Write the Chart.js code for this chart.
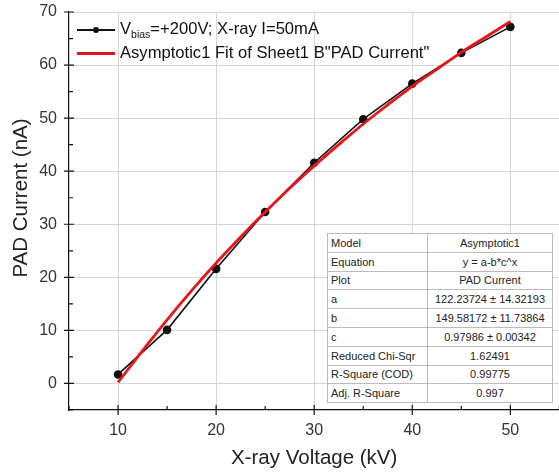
<!DOCTYPE html>
<html>
<head>
<meta charset="utf-8">
<script src="https://cdn.jsdelivr.net/npm/chart.js@4"></script>
<style>
  body { margin: 0; background: #fff; font-family: "Liberation Sans", Arial, sans-serif; overflow: hidden; }
  #wrap { position: relative; width: 559px; height: 475px; overflow: hidden; }
  #legend { position: absolute; left: 77px; top: 17px; font-size: 16.6px; color: #111; }
  #legend div { height: 24px; line-height: 24px; white-space: nowrap; }
  #legend span.sw { display: inline-block; width: 38px; height: 2px; vertical-align: middle; margin-right: 5px; position: relative; }
  #legend span.sw i { position: absolute; left: 16px; top: -2px; width: 6px; height: 6px; border-radius: 3px; background: #111; }
  #legend sub { font-size: 10.5px; }
  #stats { position: absolute; left: 327px; top: 233px; border-collapse: collapse; font-size: 11px; color: #222; background: #fff; border: 1px solid #999; }
  #stats td { border: 1px solid #bbb; height: 17.8px; padding: 0 3px; }
  #stats td:first-child { width: 93px; }
  #stats td + td { text-align: center; width: 118px; }
</style>
</head>
<body>
<div id="wrap">
  <canvas id="chart" width="565" height="475"></canvas>
  <div id="legend">
    <div><span class="sw" style="background:#111"><i></i></span>V<sub>bias</sub>=+200V; X-ray I=50mA</div>
    <div><span class="sw" style="background:#e8141c;height:3px"></span>Asymptotic1 Fit of Sheet1 B"PAD Current"</div>
  </div>
  <table id="stats"></table>
</div>
<script>
// measured points
var voltage = [10, 15, 20, 25, 30, 35, 40, 45, 50];
var current = [1.7, 10.1, 21.6, 32.3, 41.6, 49.8, 56.5, 62.3, 67.2];

// fit curve
var fitX = [10, 12.5, 15, 17.5, 20, 22.5, 25, 27.5, 30, 32.5, 35, 37.5, 40, 42.5, 45, 47.5, 50];
var fitY = [0.2, 6.2, 12.0, 17.5, 22.7, 27.6, 32.3, 36.8, 41.0, 45.0, 48.9, 52.5, 56.0, 59.2, 62.4, 65.3, 68.2];

var statRows = [
  ["Model", "Asymptotic1"],
  ["Equation", "y = a-b*c^x"],
  ["Plot", "PAD Current"],
  ["a", "122.23724 \u00b1 14.32193"],
  ["b", "149.58172 \u00b1 11.73864"],
  ["c", "0.97986 \u00b1 0.00342"],
  ["Reduced Chi-Sqr", "1.62491"],
  ["R-Square (COD)", "0.99775"],
  ["Adj. R-Square", "0.997"]
];

var table = document.getElementById("stats");
statRows.forEach(function (r) {
  var tr = document.createElement("tr");
  tr.innerHTML = "<td>" + r[0] + "</td><td>" + r[1] + "</td>";
  table.appendChild(tr);
});

function toPts(xs, ys) {
  return xs.map(function (x, i) { return { x: x, y: ys[i] }; });
}

// major ticks cross the axis, minor ticks point inward; y title drawn by hand
var axisTicks = {
  id: "axisTicks",
  afterDraw: function (chart) {
    var ctx = chart.ctx, a = chart.chartArea;
    var xs = chart.scales.x, ys = chart.scales.y;
    ctx.save();
    ctx.strokeStyle = "#111";
    ctx.lineWidth = 1.2;
    ctx.beginPath();
    xs.ticks.forEach(function (t) {
      var px = xs.getPixelForValue(t.value);
      if (t.value % 10 === 0) { ctx.moveTo(px, a.bottom - 5); ctx.lineTo(px, a.bottom + 5); }
      else { ctx.moveTo(px, a.bottom - 4); ctx.lineTo(px, a.bottom); }
    });
    ys.ticks.forEach(function (t) {
      var py = ys.getPixelForValue(t.value);
      if (t.value % 10 === 0) { ctx.moveTo(a.left - 5, py); ctx.lineTo(a.left + 5, py); }
      else { ctx.moveTo(a.left, py); ctx.lineTo(a.left + 4, py); }
    });
    ctx.stroke();

    ctx.translate(21, 198);
    ctx.rotate(-Math.PI / 2);
    ctx.fillStyle = "#222";
    ctx.font = "20.5px 'Liberation Sans'";
    ctx.textAlign = "center";
    ctx.textBaseline = "middle";
    ctx.fillText("PAD Current (nA)", 0, 0);
    ctx.restore();
  }
};

function gridColor(c) {
  var v = c.tick ? c.tick.value : null;
  if (v === null || v % 10 !== 0) return "rgba(0,0,0,0)";
  return "#d6d6d6";
}

new Chart(document.getElementById("chart"), {
  type: "scatter",
  data: {
    datasets: [
      {
        label: "fit",
        data: toPts(fitX, fitY),
        showLine: true,
        borderColor: "#e8141c",
        borderWidth: 2.8,
        pointRadius: 0,
        cubicInterpolationMode: "monotone",
        order: 0
      },
      {
        label: "data",
        data: toPts(voltage, current),
        showLine: true,
        borderColor: "#111",
        borderWidth: 1.6,
        pointRadius: 3.5,
        pointBackgroundColor: "#111",
        pointBorderColor: "#111",
        order: 1
      }
    ]
  },
  options: {
    responsive: false,
    animation: false,
    layout: { padding: { top: 12, right: 0, left: 0, bottom: 0 } },
    plugins: { legend: { display: false }, tooltip: { enabled: false } },
    scales: {
      x: {
        type: "linear",
        min: 5, max: 55,
        afterFit: function (s) { s.height = 65; s.paddingLeft = 0; s.paddingRight = 0; },
        border: { color: "#111", width: 1.2 },
        grid: { color: gridColor, drawTicks: false },
        ticks: {
          stepSize: 5, padding: 11, color: "#333",
          font: { size: 16, family: "Liberation Sans" },
          callback: function (v) { return v % 10 === 0 && v > 5 && v < 55 ? v : ""; }
        },
        title: { display: true, text: "X-ray Voltage (kV)", color: "#222", font: { size: 20.5, family: "Liberation Sans" }, padding: { top: 3 } }
      },
      y: {
        min: -5, max: 70,
        afterFit: function (s) { s.width = 69; s.paddingTop = 0; s.paddingBottom = 0; },
        border: { color: "#111", width: 1.2 },
        grid: { color: gridColor, drawTicks: false },
        ticks: {
          stepSize: 5, padding: 12, color: "#333",
          font: { size: 16, family: "Liberation Sans" },
          callback: function (v) { return v % 10 === 0 ? v : ""; }
        },
        title: { display: false }
      }
    }
  },
  plugins: [axisTicks]
});
</script>
</body>
</html>
